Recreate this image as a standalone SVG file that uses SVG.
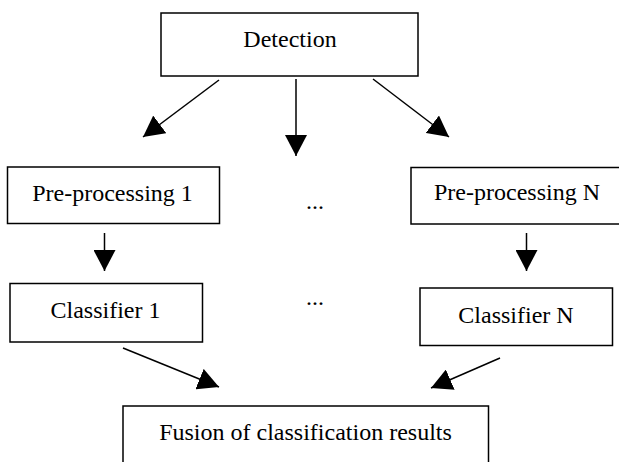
<svg xmlns="http://www.w3.org/2000/svg" width="619" height="462" viewBox="0 0 619 462">
<defs>
<style>
.box{fill:#fff;stroke:#000;stroke-width:1.5}
.lbl{font-family:"Liberation Serif","Times New Roman",serif;font-size:24px;fill:#000;text-anchor:middle}
.con{stroke:#000;stroke-width:1.5;fill:none;marker-end:url(#ah)}
</style>
<marker id="ah" markerUnits="userSpaceOnUse" markerWidth="22" markerHeight="22" viewBox="0 0 22 22" refX="21" refY="11" orient="auto">
<path d="M0,0 L21,11 L0,22 z" fill="#000"/>
</marker>
</defs>
<rect width="619" height="462" fill="#fff"/>
<g id="detection">
<rect class="box" x="161" y="13" width="257" height="63"/>
<text class="lbl" x="290" y="47">Detection</text>
</g>
<g id="pre1">
<rect class="box" x="7.5" y="167" width="212" height="56.5"/>
<text class="lbl" x="112.5" y="200.5">Pre-processing 1</text>
</g>
<g id="preN">
<rect class="box" x="411" y="167.5" width="220" height="56.5"/>
<text class="lbl" x="517" y="199.5">Pre-processing N</text>
</g>
<g id="dots1">
<text class="lbl" x="315" y="209">...</text>
</g>
<g id="cls1">
<rect class="box" x="10" y="283.5" width="192.5" height="58.5"/>
<text class="lbl" x="105.5" y="317.5">Classifier 1</text>
</g>
<g id="dots2">
<text class="lbl" x="315" y="305">...</text>
</g>
<g id="clsN">
<rect class="box" x="420" y="288" width="192.5" height="57.5"/>
<text class="lbl" x="516" y="322.5">Classifier N</text>
</g>
<g id="fusion">
<rect class="box" x="123" y="406" width="365.5" height="70"/>
<text class="lbl" x="305.5" y="439.5">Fusion of classification results</text>
</g>
<g id="connectors">
<line class="con" x1="219" y1="80" x2="143" y2="137"/>
<line class="con" x1="296" y1="79" x2="296" y2="156"/>
<line class="con" x1="373" y1="79" x2="449" y2="137"/>
<line class="con" x1="104.5" y1="233" x2="104.5" y2="271"/>
<line class="con" x1="526.5" y1="233" x2="526.5" y2="271"/>
<line class="con" x1="123" y1="348" x2="219" y2="387"/>
<line class="con" x1="500" y1="358" x2="431" y2="388"/>
</g>
</svg>
